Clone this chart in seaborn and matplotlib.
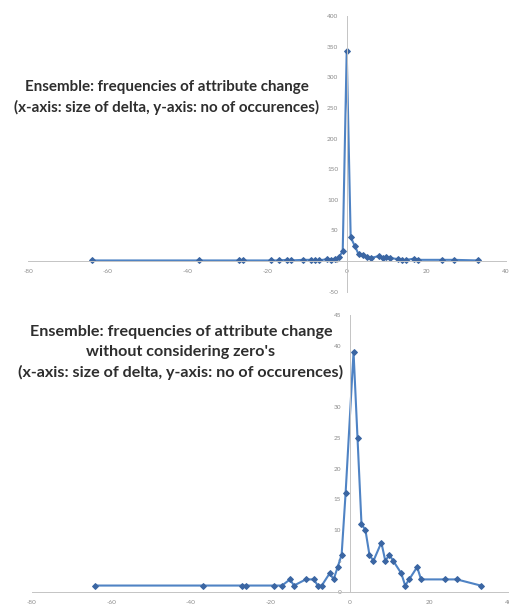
import matplotlib
matplotlib.use("Agg")
import matplotlib.pyplot as plt
import seaborn as sns
import pandas as pd

# Size of delta (x) and number of occurrences (y), zero delta excluded
delta = [-64, -37, -27, -26, -19, -17, -15, -14, -11, -9, -8, -7, -5, -4, -3, -2, -1,
         1, 2, 3, 4, 5, 6, 8, 9, 10, 11, 13, 14, 15, 17, 18, 24, 27, 33]
occurrences = [1, 1, 1, 1, 1, 1, 2, 1, 2, 2, 1, 1, 3, 2, 4, 6, 16,
               39, 25, 11, 10, 6, 5, 8, 5, 6, 5, 3, 1, 2, 4, 2, 2, 2, 1]
# Occurrences for a delta of exactly zero
zero_count = 343

top_x_ticks = [-80, -60, -40, -20, 0, 20, 40]
top_y_ticks = [-50, 0, 50, 100, 150, 200, 250, 300, 350, 400]
bottom_y_ticks = [0, 5, 10, 15, 20, 25, 30, 35, 40, 45]
# the 35 label sits under the lower title block
bottom_y_labels = ["0", "5", "10", "15", "20", "25", "30", "", "40", "45"]

title_top = ["Ensemble: frequencies of attribute change",
             "(x-axis: size of delta, y-axis: no of occurences)"]
title_bottom = ["Ensemble: frequencies of attribute change",
                "without considering zero's",
                "(x-axis: size of delta, y-axis: no of occurences)"]

df_nz = pd.DataFrame({"delta": delta, "count": occurrences})
df_all = pd.concat([df_nz, pd.DataFrame({"delta": [0], "count": [zero_count]})]) \
    .sort_values("delta").reset_index(drop=True)

sns.set_style("white")
plt.rcParams["font.family"] = ["Lato", "DejaVu Sans"]
plt.rcParams["axes.unicode_minus"] = False

W, H = 509, 615
fig = plt.figure(figsize=(W / 100, H / 100), dpi=100)

LINE = "#4f83c4"
MARK = "#3b66a3"
AXC = "#c4c4c4"
TICKC = "#8a8a8a"


def px_axes(left, right, top, bottom):
    return fig.add_axes([left / W, 1 - bottom / H, (right - left) / W, (bottom - top) / H])


def style_axes(ax, xlim, ylim, xt, yt):
    ax.set_xlim(*xlim)
    ax.set_ylim(*ylim)
    ax.set_xticks(xt)
    ax.set_yticks(yt)
    for s in ("top", "right"):
        ax.spines[s].set_visible(False)
    ax.spines["left"].set_position(("data", 0))
    ax.spines["bottom"].set_position(("data", 0))
    for s in ("left", "bottom"):
        ax.spines[s].set_color(AXC)
        ax.spines[s].set_linewidth(0.7)
    ax.tick_params(axis="both", length=2, width=0.6, color=AXC, labelsize=4.6,
                   labelcolor=TICKC, pad=4, direction="out")
    ax.set_xlabel("")
    ax.set_ylabel("")
    ax.patch.set_alpha(0)


line_kw = dict(color=LINE, linewidth=1.5, marker="D", markersize=3.0,
               markerfacecolor=MARK, markeredgecolor=MARK, sort=False)

# Upper chart: all deltas including zero
ax1 = px_axes(28.3, 505.9, 16, 291.7)
sns.lineplot(data=df_all, x="delta", y="count", ax=ax1, **line_kw)
style_axes(ax1, (-80, 40), (-50, 400), top_x_ticks, top_y_ticks)

# Lower chart: zero delta left out
ax2 = px_axes(31.7, 508.5, 315, 591.7)
sns.lineplot(data=df_nz, x="delta", y="count", ax=ax2, **line_kw)
style_axes(ax2, (-80, 40), (0, 45), top_x_ticks, bottom_y_ticks)
ax2.set_yticklabels(bottom_y_labels)

box = dict(facecolor="white", edgecolor="none", pad=0.5)
for i, line in enumerate(title_top):
    fig.text(167 / W, 1 - (87 + 20 * i) / H, line, ha="center", va="center",
             fontsize=10.9, fontweight="bold", color="#2e2e2e", bbox=box)
for i, line in enumerate(title_bottom):
    fig.text(181 / W, 1 - (332 + 20 * i) / H, line, ha="center", va="center",
             fontsize=11.6, fontweight="bold", color="#2e2e2e", bbox=box)

fig.savefig("out.png", dpi=100, facecolor="white")
